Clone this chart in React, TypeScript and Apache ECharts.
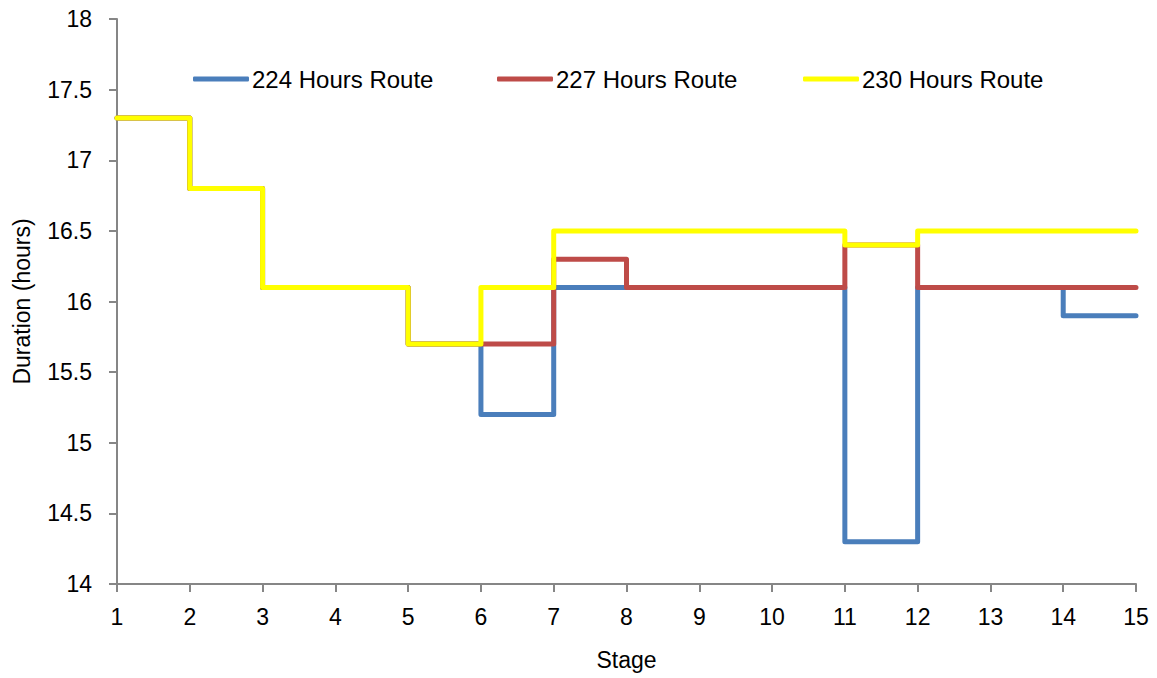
import React, { useEffect, useRef } from "react";
import * as echarts from "echarts";

// Stage numbers along the x axis
const stages = [1, 2, 3, 4, 5, 6, 7, 8, 9, 10, 11, 12, 13, 14, 15];

// Duration (hours) per stage for each route
const route224 = [17.3, 16.8, 16.1, 16.1, 15.7, 15.2, 16.1, 16.1, 16.1, 16.1, 14.3, 16.1, 16.1, 15.9, 15.9];
const route227 = [17.3, 16.8, 16.1, 16.1, 15.7, 15.7, 16.3, 16.1, 16.1, 16.1, 16.4, 16.1, 16.1, 16.1, 16.1];
const route230 = [17.3, 16.8, 16.1, 16.1, 15.7, 16.1, 16.5, 16.5, 16.5, 16.5, 16.4, 16.5, 16.5, 16.5, 16.5];

const seriesNames = ["224 Hours Route", "227 Hours Route", "230 Hours Route"];
const seriesColors = ["#4A7EBB", "#BE4B48", "#FFFF00"];
const seriesValues = [route224, route227, route230];

const FONT = "'Liberation Sans', Arial, sans-serif";
const AXIS_COLOR = "#868686";

export default function App() {
  const ref = useRef<HTMLDivElement>(null);

  useEffect(() => {
    if (!ref.current) return;
    const chart = echarts.init(ref.current, undefined, { renderer: "svg" });

    const legendLefts = [193, 497, 803];

    chart.setOption({
      animation: false,
      backgroundColor: "#ffffff",
      textStyle: { fontFamily: FONT },
      grid: { left: 117, right: 21, top: 19, bottom: 94, containLabel: false },
      legend: seriesNames.map((name, i) => ({
        data: [name],
        left: legendLefts[i],
        top: 67,
        icon: "roundRect",
        itemWidth: 56,
        itemHeight: 5,
        itemGap: 0,
        padding: 0,
        selectedMode: false,
        textStyle: { fontFamily: FONT, fontSize: 24, color: "#000", padding: [0, 0, 0, -2] },
      })),
      xAxis: {
        type: "value",
        min: 1,
        max: 15,
        interval: 1,
        name: "Stage",
        nameLocation: "middle",
        nameGap: 64,
        nameTextStyle: { fontFamily: FONT, fontSize: 23, color: "#000" },
        axisLine: { show: true, lineStyle: { color: AXIS_COLOR, width: 2 } },
        axisTick: { show: true, length: 8, lineStyle: { color: AXIS_COLOR, width: 2 } },
        axisLabel: { fontFamily: FONT, fontSize: 23, color: "#000", margin: 21 },
        splitLine: { show: false },
      },
      yAxis: {
        type: "value",
        min: 14,
        max: 18,
        interval: 0.5,
        name: "Duration (hours)",
        nameLocation: "middle",
        nameRotate: 90,
        nameGap: 84,
        nameTextStyle: { fontFamily: FONT, fontSize: 23, color: "#000" },
        axisLine: { show: true, lineStyle: { color: AXIS_COLOR, width: 2 } },
        axisTick: { show: true, length: 8, lineStyle: { color: AXIS_COLOR, width: 2 } },
        axisLabel: { fontFamily: FONT, fontSize: 23, color: "#000", margin: 25 },
        splitLine: { show: false },
      },
      series: seriesNames.map((name, i) => ({
        name,
        type: "line",
        step: "end",
        symbol: "none",
        color: seriesColors[i],
        itemStyle: { color: seriesColors[i] },
        lineStyle: { color: seriesColors[i], width: 5, cap: "round", join: "round" },
        data: stages.map((s, j) => [s, seriesValues[i][j]]),
        z: 2 + i,
      })),
    });

    return () => chart.dispose();
  }, []);

  return <div ref={ref} style={{ width: 1157, height: 678, position: "absolute", left: 0, top: 0 }} />;
}
